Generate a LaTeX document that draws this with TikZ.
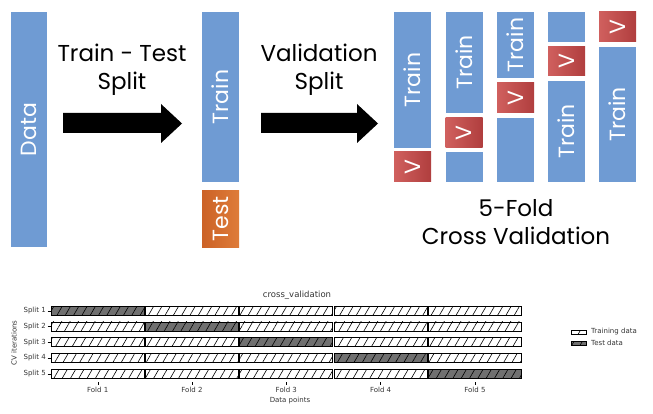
\documentclass[tikz,border=0pt]{standalone}
\usepackage{fontspec}
\setmainfont{Poppins}
\newfontfamily\plotfont{DejaVu Sans}
\usetikzlibrary{patterns.meta}

\definecolor{barblue}{RGB}{111,155,211}
\definecolor{valleft}{RGB}{208,96,94}
\definecolor{valright}{RGB}{176,62,62}
\definecolor{testleft}{RGB}{204,98,38}
\definecolor{testright}{RGB}{222,124,58}
\definecolor{testgray}{RGB}{112,112,112}

\tikzset{
    bar/.style={rotate=90, inner sep=0pt, minimum height=37pt, text=white,
        font=\fontsize{22}{26}\selectfont},
    trainbar/.style={bar, fill=barblue},
    valbox/.style={bar, minimum width=30pt, left color=valleft, right color=valright, shading angle=90},
    testbox/.style={bar, left color=testleft, right color=testright, shading angle=90},
    heading/.style={align=center, font=\fontsize{23}{28}\selectfont},
    plottext/.style={font=\plotfont\fontsize{7}{8.5}\selectfont, text=black!80, inner sep=1pt},
    traincell/.style={draw=black, line width=0.7pt, preaction={fill=white},
        pattern={Lines[angle=60,distance=7.2pt,line width=0.6pt]}},
    testcell/.style={traincell, preaction={fill=testgray}}
}

\begin{document}
\begin{tikzpicture}[x=1pt,y=-1pt]
    \useasboundingbox (0,0) rectangle (653,414);

    % first split
    \node[trainbar, minimum height=36pt, minimum width=235pt] (data) at (29,129.5) {Data};
    \node[heading] (tts) at (122,70) {Train - Test\\Split};
    \node[trainbar, minimum width=170pt] (train) at (220.5,97) {Train};
    \node[testbox, minimum width=56pt] (test) at (220.5,219) {Test};

    % block arrows
    \foreach \ax/\hx in {63/161,261/357}
        \fill (\ax,113) -- (\hx,113) -- (\hx,104) -- ({\hx+21},123.5) -- (\hx,143) -- (\hx,133) -- (\ax,133) -- cycle;

    \node[heading] (vs) at (319,70) {Validation\\Split};

    % 5 folds
    \node[trainbar, minimum width=136pt] (k1t) at (412.5,80) {Train};
    \node[valbox] (k1v) at (412.5,167) {V};

    \node[trainbar, minimum width=101pt] (k2t) at (464,62.5) {Train};
    \node[valbox] (k2v) at (464,133) {V};
    \node[trainbar, minimum width=30pt] (k2r) at (464,167) {};

    \node[trainbar, minimum width=66pt] (k3t) at (515.5,45) {Train};
    \node[valbox] (k3v) at (515.5,98) {V};
    \node[trainbar, minimum width=64pt] (k3r) at (515.5,150) {};

    \node[trainbar, minimum width=30pt] (k4r) at (566.5,27) {};
    \node[valbox, minimum width=29pt] (k4v) at (566.5,61.5) {V};
    \node[trainbar, minimum width=101pt] (k4t) at (566.5,131.5) {Train};

    \node[valbox] (k5v) at (617.5,27) {V};
    \node[trainbar, minimum width=135pt] (k5t) at (617.5,114.5) {Train};

    \node[heading] (cv) at (516,222) {5-Fold\\Cross Validation};

    % cross_validation plot
    \node[plottext, font=\plotfont\fontsize{8.5}{10}\selectfont] (title) at (297,295) {cross\_validation};
    \foreach \s in {1,...,5} {
        \node[plottext, anchor=east] (split\s) at ({47},{310.7+(\s-1)*15.75}) {Split \s};
        \draw[line width=0.4pt] ({47.5},{310.7+(\s-1)*15.75}) -- ({50.7},{310.7+(\s-1)*15.75});
        \foreach \f in {1,...,5} {
            \ifnum\s=\f \def\cellkind{testcell}\else\def\cellkind{traincell}\fi
            \draw[\cellkind] ({51.2+(\f-1)*94.3},{306.2+(\s-1)*15.75}) rectangle ({144.2+(\f-1)*94.3},{315.2+(\s-1)*15.75});
        }
    }
    \foreach \f in {1,...,5} {
        \draw[line width=0.4pt] ({97.7+(\f-1)*94.3},{382}) -- ({97.7+(\f-1)*94.3},{385});
        \node[plottext, anchor=north] (fold\f) at ({97.7+(\f-1)*94.3},{385.5}) {Fold \f};
    }
    \node[plottext] (xlabel) at (290,401) {Data points};
    \node[plottext, rotate=90] (ylabel) at (14,343) {CV iterations};

    % legend
    \draw[traincell] (571,330) rectangle (586,334.5);
    \node[plottext, anchor=west] (legtrain) at (590,332) {Training data};
    \draw[testcell] (571,341) rectangle (586,345.5);
    \node[plottext, anchor=west] (legtest) at (590,343) {Test data};
\end{tikzpicture}
\end{document}
